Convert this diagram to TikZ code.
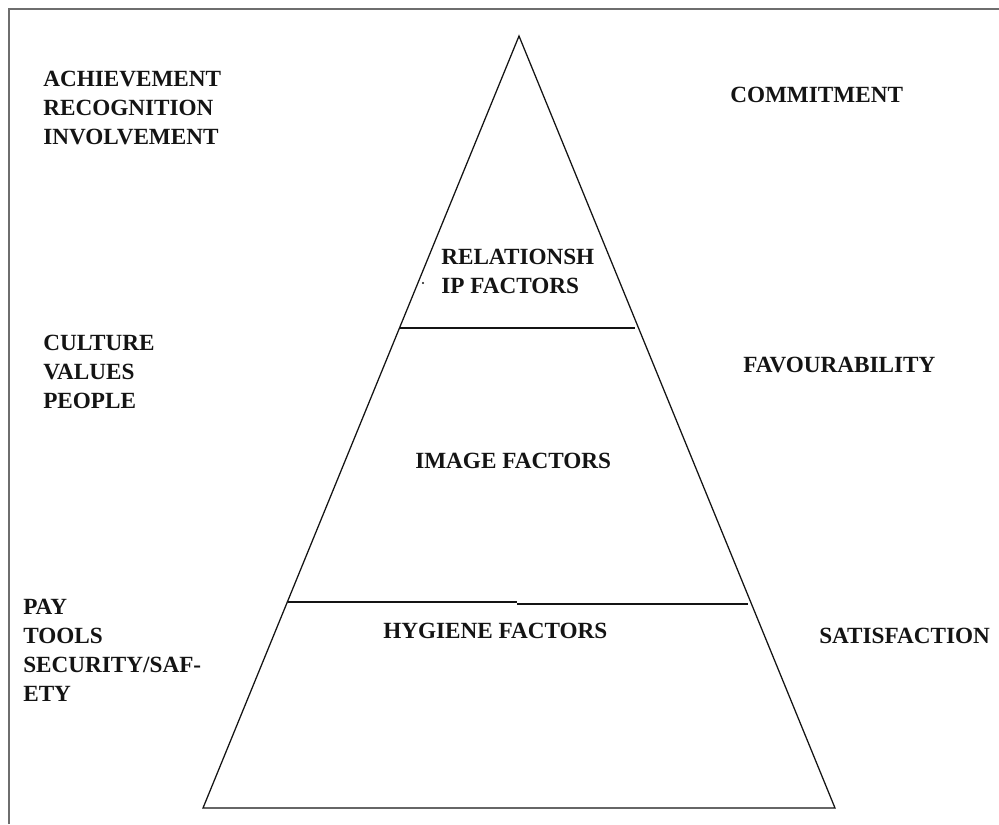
\documentclass[tikz,border=0pt]{standalone}
\usepackage{fontspec}
\setmainfont{Liberation Serif}
\usepackage{tikz}
\usetikzlibrary{positioning}
\definecolor{framegray}{RGB}{110,110,110}
\definecolor{inkblack}{RGB}{20,20,20}

\begin{document}
\begin{tikzpicture}[x=0.025cm, y=-0.025cm, every node/.style={font=\bfseries\fontsize{16.5}{20.6}\selectfont, inner sep=0pt, text=inkblack}]
      \tikzstyle{sidetext}=[align=left, anchor=north west]
      \tikzstyle{pyrline}=[draw=inkblack, line width=0.9pt]
      \useasboundingbox (0,0) rectangle (999,824);
      \clip (0,0) rectangle (999,824);
      % open frame, top and left only
      \draw[framegray, line width=1.3pt] (9,824) -- (9,9) -- (999,9);
      % pyramid
      \coordinate (apex) at (519,36);
      \coordinate (bl) at (203,808);
      \coordinate (br) at (835,808);
      \draw[pyrline] (apex) -- (bl) -- (br) -- cycle;
      \coordinate (r1) at (400,328);
      \coordinate (r2) at (635,328);
      \draw[pyrline] (r1) -- (r2);
      \coordinate (h1) at (288,602);
      \coordinate (h2) at (517,602);
      \coordinate (h3) at (517,604);
      \coordinate (h4) at (748,604);
      \draw[pyrline] (h1) -- (h2);
      \draw[pyrline] (h3) -- (h4);
      \fill[inkblack] (423,283) circle (1.2);
      % tier labels
      \node[sidetext] (rel) at (441,249) {RELATIONSH\\IP FACTORS};
      \node[anchor=base west] (img) at (415,468) {IMAGE FACTORS};
      \node[anchor=base west] (hyg) at (383,638) {HYGIENE FACTORS};
      % drivers on the left
      \node[sidetext] (ach) at (43,71) {ACHIEVEMENT\\RECOGNITION\\INVOLVEMENT};
      \node[sidetext] (cul) at (43,335) {CULTURE\\VALUES\\PEOPLE};
      \node[sidetext] (pay) at (23,599) {PAY\\TOOLS\\SECURITY/SAF-\\ETY};
      % outcomes on the right
      \node[anchor=base west] (com) at (730,102) {COMMITMENT};
      \node[anchor=base west] (fav) at (743,372) {FAVOURABILITY};
      \node[anchor=base west] (sat) at (819,643) {SATISFACTION};
    \end{tikzpicture}
\end{document}
